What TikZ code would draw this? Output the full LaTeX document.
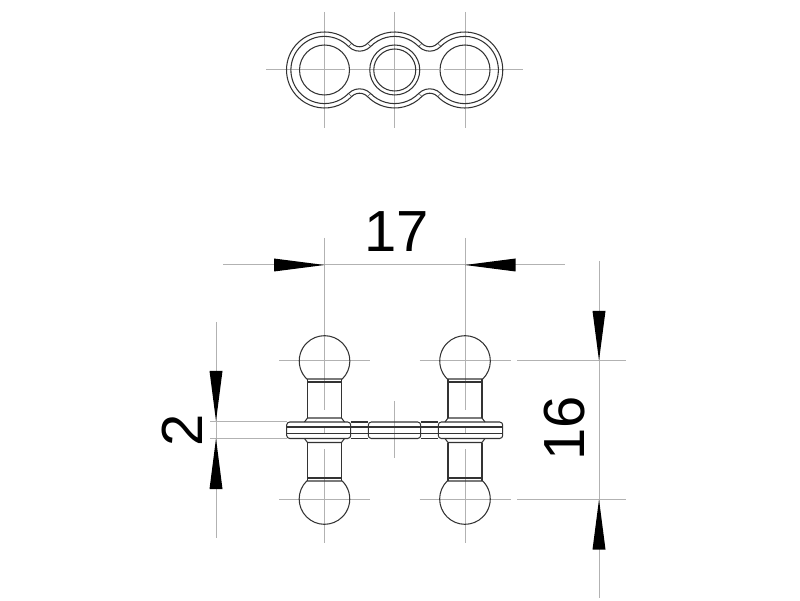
\documentclass[tikz,border=0pt]{standalone}
\usepackage{fontspec}
\setmainfont{Liberation Sans}
\usetikzlibrary{arrows.meta}
\tikzset{
    outline/.style={draw=black!80, line width=1.05pt, line join=round},
    axis/.style={draw=black!30, line width=1pt},
    dimtip/.style={fill=black, draw=none},
    dimtext/.style={font=\fontsize{58}{58}\selectfont, inner sep=0pt, text=black, draw=none}
}
% lobes{radius}: three lobed contour of the top view
\newcommand{\lobes}[1]{%
    \pgfmathsetmacro{\fr}{49-#1}
    \draw[outline] ({324.5+#1*cos(44.3)},{530+#1*sin(44.3)})
        arc[start angle=44.3, end angle=315.7, radius=#1]
        arc[start angle=135.7, end angle=44.3, radius=\fr]
        arc[start angle=224.3, end angle=315.7, radius=#1]
        arc[start angle=135.7, end angle=44.3, radius=\fr]
        arc[start angle=224.3, end angle=495.7, radius=#1]
        arc[start angle=315.7, end angle=224.3, radius=\fr]
        arc[start angle=44.3, end angle=135.7, radius=#1]
        arc[start angle=315.7, end angle=224.3, radius=\fr] -- cycle;
}
\begin{document}
\begin{tikzpicture}[x=1pt, y=1pt]
    \useasboundingbox (0,0) rectangle (800,600);
    % Top view: centre lines
    \foreach \cx in {324.5,394.75,465} {
        \draw[axis] (\cx,588) -- (\cx,472);
    }
    \draw[axis] (266,530) -- (345,530);
    \draw[axis] (350,530) -- (439,530);
    \draw[axis] (444,530) -- (523,530);
    % Top view: contour and holes
    \lobes{38}
    \lobes{33.6}
    \draw[outline] (324.5,530) circle (25);
    \draw[outline] (394.75,530) circle (25);
    \draw[outline] (394.75,530) circle (21);
    \draw[outline] (465,530) circle (25);
    \foreach \cx/\sx in {324.5/1,394.75/-1,394.75/1,465/-1} {
        \draw[outline, line width=0.5pt] ({\cx+\sx*33.6*cos(44.3)},{530+33.6*sin(44.3)}) -- ({\cx+\sx*38*cos(44.3)},{530+38*sin(44.3)});
        \draw[outline, line width=0.5pt] ({\cx+\sx*33.6*cos(44.3)},{530-33.6*sin(44.3)}) -- ({\cx+\sx*38*cos(44.3)},{530-38*sin(44.3)});
    }
    % Side view: centre lines
    \foreach \cx in {324.5,465} {
        \draw[axis] (\cx,362) -- (\cx,190);
        \draw[axis] (\cx,173) -- (\cx,166.5);
        \draw[axis] (\cx,151) -- (\cx,57);
        \draw[axis] (\cx-45.5,239) -- (\cx+45.5,239);
        \draw[axis] (\cx-45.5,101) -- (\cx+45.5,101);
    }
    \draw[axis] (394.75,199) -- (394.75,142);
    % Side view: the two studs
    \foreach \cx in {324.5,465} {
        \draw[outline] (\cx+17.8,221) arc[start angle=-45.4, end angle=225.4, radius=25.3] -- cycle;
        \draw[outline] (\cx-17,221) -- (\cx-17,182) (\cx+17,221) -- (\cx+17,182);
        \draw[outline] (\cx-17,218) -- (\cx+17,218);
        \draw[outline] (\cx-20,178) -- (\cx-17,182) -- (\cx+17,182) -- (\cx+20,178);
        \draw[outline] (\cx-20,161.5) -- (\cx-17,157.5) -- (\cx+17,157.5) -- (\cx+20,161.5);
        \draw[outline] (\cx-17,157.5) -- (\cx-17,119) (\cx+17,157.5) -- (\cx+17,119);
        \draw[outline] (\cx-17,122) -- (\cx+17,122);
        \draw[outline] (\cx-17.8,119) arc[start angle=134.6, end angle=405.4, radius=25.3] -- cycle;
    }
    % Side view: plate
    \foreach \xa/\xb in {286.7/350.7,368.3/420.7,438.3/502.7} {
        \draw[outline, rounded corners=3pt] (\xa,161.5) rectangle (\xb,178);
    }
    \foreach \xa/\xb in {350.7/368.3,420.7/438.3} {
        \draw[outline] (\xa,178) -- (\xb,178) (\xa,161.5) -- (\xb,161.5);
    }
    \draw[outline] (286.7,173) -- (502.7,173) (286.7,166.5) -- (502.7,166.5);
    % Dimension 17
    \draw[axis] (223,335) -- (565,335);
    \draw[axis] (324.5,362) -- (324.5,335);
    \draw[axis] (465,362) -- (465,335);
    \fill[dimtip] (324.5,335) -- (274,341.5) -- (274,328.5) -- cycle;
    \fill[dimtip] (465,335) -- (515.5,341.5) -- (515.5,328.5) -- cycle;
    \node[dimtext] (len) at (396.5,368.5) {17};
    % Dimension 16
    \draw[axis] (599,339) -- (599,2);
    \draw[axis] (517,239) -- (625.5,239);
    \draw[axis] (517,101) -- (625.5,101);
    \fill[dimtip] (599,239.5) -- (592.5,289) -- (605.5,289) -- cycle;
    \fill[dimtip] (599,100.5) -- (592.5,50.5) -- (605.5,50.5) -- cycle;
    \node[dimtext, rotate=90] (height) at (564.5,171.5) {16};
    % Dimension 2
    \draw[axis] (216,278) -- (216,62);
    \draw[axis] (210,178.3) -- (286.7,178.3);
    \draw[axis] (210,161.7) -- (286.7,161.7);
    \fill[dimtip] (216,179) -- (209.5,229) -- (222.5,229) -- cycle;
    \fill[dimtip] (216,161.5) -- (209.5,111) -- (222.5,111) -- cycle;
    \node[dimtext, rotate=90] (thick) at (182,169.5) {2};
\end{tikzpicture}
\end{document}
